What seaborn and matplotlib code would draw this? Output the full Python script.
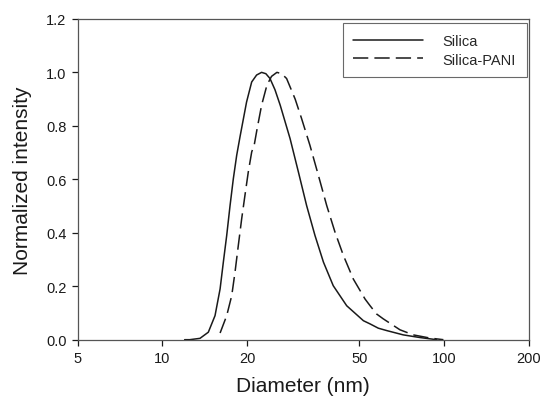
import matplotlib
matplotlib.use("Agg")
from matplotlib import pyplot as plt
from matplotlib.ticker import FixedLocator, NullLocator, FixedFormatter
import pandas as pd
import seaborn as sns

#### DATA #####################################################################

# diameter (nm) vs normalized intensity
silica_d = [12.0, 12.5, 13.6, 14.56, 15.38, 16.03, 16.46, 16.92, 17.39, 17.86,
            18.36, 18.87, 19.9, 20.75, 21.6, 22.5, 23.3, 24.1, 25.1, 26.2,
            28.4, 30.4, 32.5, 34.8, 37.3, 40.4, 45.1, 51.7, 54.6, 58.4, 62.6,
            71.6, 82.1, 94.1]
silica_v = [0.0, 0.0, 0.005, 0.028, 0.09, 0.19, 0.29, 0.39, 0.502, 0.602,
            0.69, 0.76, 0.889, 0.964, 0.99, 1.0, 0.995, 0.977, 0.935, 0.877,
            0.752, 0.627, 0.502, 0.39, 0.29, 0.202, 0.127, 0.071, 0.059, 0.043,
            0.034, 0.018, 0.008, 0.0]

pani_d = [16.03, 16.92, 17.63, 18.11, 18.6, 19.12, 19.64, 20.18, 20.75, 21.2,
          21.7, 22.5, 23.5, 24.4, 25.5, 26.5, 27.6, 29.6, 31.2, 33.4, 35.8,
          38.3, 41.0, 43.9, 47.6, 52.4, 54.6, 57.6, 60.8, 69.7, 77.7, 89.1,
          99.4]
pani_v = [0.025, 0.09, 0.165, 0.253, 0.352, 0.452, 0.54, 0.627, 0.702, 0.73,
          0.79, 0.877, 0.952, 0.985, 1.0, 0.995, 0.977, 0.90, 0.827, 0.727,
          0.614, 0.502, 0.402, 0.315, 0.227, 0.152, 0.127, 0.096, 0.078, 0.037,
          0.018, 0.006, 0.0]

x_ticks = [5, 10, 20, 50, 100, 200]
y_ticks = [0.0, 0.2, 0.4, 0.6, 0.8, 1.0, 1.2]

#### PLOT #####################################################################

sns.set_style("ticks")
plt.rcParams['font.family'] = ['Liberation Sans', 'DejaVu Sans']

silica = pd.DataFrame({'d': silica_d, 'v': silica_v})
pani = pd.DataFrame({'d': pani_d, 'v': pani_v})

fig = plt.figure(figsize=(5.42, 4.02), dpi=100)
ax = fig.add_axes([0.143, 0.1525, 0.833, 0.798])

sns.lineplot(data=silica, x='d', y='v', ax=ax, color='#1a1a1a', lw=1.1,
             label='Silica')
sns.lineplot(data=pani, x='d', y='v', ax=ax, color='#1a1a1a', lw=1.1,
             label='Silica-PANI')
ax.lines[1].set_dashes((10, 4))

ax.set_xscale('log')
ax.set_xlim(5, 200)
ax.set_ylim(0, 1.2)
ax.xaxis.set_major_locator(FixedLocator(x_ticks))
ax.xaxis.set_major_formatter(FixedFormatter([str(t) for t in x_ticks]))
ax.xaxis.set_minor_locator(NullLocator())
ax.set_yticks(y_ticks)
ax.set_yticklabels([f'{t:.1f}' for t in y_ticks])

ax.tick_params(axis='both', direction='out', length=4, width=0.9,
               labelsize=10.5, colors='#1a1a1a', pad=4)
for sp in ax.spines.values():
    sp.set_visible(True)
    sp.set_linewidth(0.9)
    sp.set_color('#555555')

ax.set_xlabel('Diameter (nm)', fontsize=15, color='#1a1a1a', labelpad=8)
ax.set_ylabel('Normalized intensity', fontsize=15, color='#1a1a1a', labelpad=10)

leg = ax.legend(loc='upper right', fontsize=10.5, frameon=True, fancybox=False,
                edgecolor='#444444', handlelength=4.8, handletextpad=1.3,
                borderpad=0.75, labelspacing=0.32, borderaxespad=0,
                bbox_to_anchor=(0.995, 0.9875))
leg.get_frame().set_linewidth(0.8)

fig.savefig('out.png', dpi=100)
